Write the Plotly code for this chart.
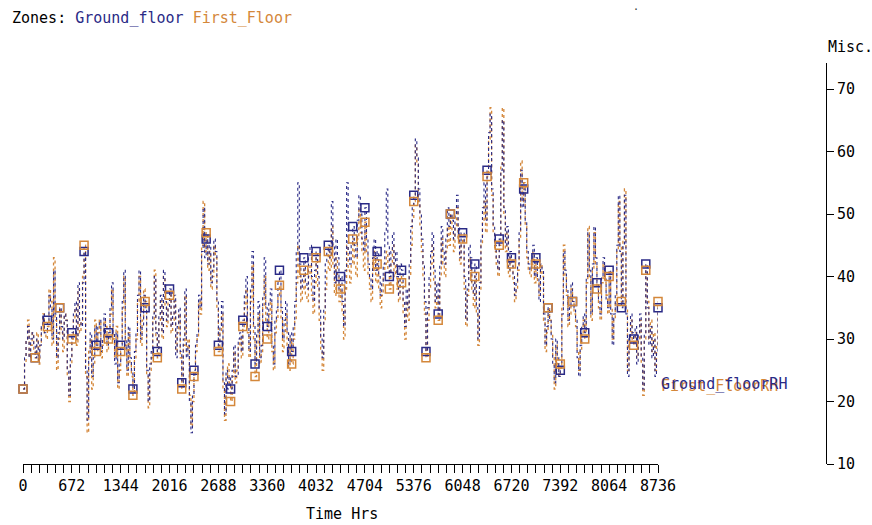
import plotly.graph_objects as go

# ---------------- data ----------------
STEP_HRS = 21
HOURS = list(range(0, 8737, STEP_HRS))          # 0 .. 8736

first_floor = [
    22, 26, 30, 33, 27, 29, 31, 28,   27, 31, 26, 29, 32, 34, 31, 30,
    32, 38, 36, 29, 43, 33, 25, 30,   35, 31, 28, 34, 33, 24, 20, 26,
    30, 33, 35, 29, 38, 31, 33, 40,   45, 24, 15, 28, 30, 22, 26, 33,
    28, 31, 33, 27, 29, 33, 32, 28,   30, 34, 38, 30, 27, 32, 22, 25,
    28, 35, 40, 29, 24, 31, 26, 24,   21, 27, 30, 36, 40, 29, 33, 38,
    36, 24, 19, 25, 27, 33, 41, 30,   27, 33, 36, 30, 40, 35, 32, 36,
    37, 31, 33, 36, 28, 31, 34, 27,   22, 29, 37, 28, 30, 21, 16, 20,
    24, 28, 30, 36, 34, 45, 52, 44,   47, 41, 44, 38, 40, 45, 43, 35,
    28, 31, 34, 22, 17, 24, 26, 23,   20, 24, 28, 23, 25, 29, 30, 27,
    32, 35, 38, 31, 27, 36, 42, 30,   24, 29, 34, 26, 28, 35, 40, 33,
    30, 34, 36, 28, 25, 31, 33, 37,   38.6, 33, 28, 31, 34, 29, 25, 30,
    26, 30, 33, 39, 45, 40, 36, 38,   41, 37, 36, 40, 42, 37, 34, 39,
    43, 38, 33, 28, 25, 33, 38, 41,   44, 41, 48, 42, 37, 43, 40, 36,
    38, 34, 30, 38, 45, 41, 39, 42,   46, 42, 40, 46, 51, 47, 44, 41,
    48.7, 44, 40, 38, 36, 41, 44, 39, 42, 38, 35, 37, 40, 42, 44, 41,
    38, 42, 45, 40, 42, 38, 36, 40,   39, 34, 30, 36, 33, 40, 45, 49,
    52, 61, 58, 52, 48, 44, 40, 34,   27, 33, 38, 42, 45, 39, 35, 37,
    33, 40, 46, 42, 40, 44, 48, 45,   50, 47, 44, 48, 51, 46, 42, 45,
    46, 38, 32, 37, 43, 41, 38, 35,   40, 34, 29, 38, 45, 49, 52, 47,
    56, 62, 67, 53, 47, 44, 42, 40,   45, 58, 67, 50, 44, 47, 40, 43,
    42, 39, 36, 38, 41, 46, 58.5, 52, 55, 48, 43, 41, 40, 42, 44, 39,
    42, 39, 37, 42, 40, 33, 28, 31,   35, 33, 31, 27, 22, 29, 26, 24,
    26, 35, 45, 40, 37, 32, 34, 38,   36, 34, 32, 28, 25, 28, 31, 33,
    30, 39, 48, 40, 33, 41, 47, 42,   38, 35, 33, 39, 42, 39, 37, 34,
    40, 35, 30, 33, 36, 44, 52, 45,   36, 46, 54, 35, 25, 29, 33, 30,
    29, 31, 27, 30, 33, 26, 21, 30,   41, 36, 30, 33, 28, 31, 25, 29, 36,
]

ground_floor = [
    22, 27, 30, 32, 27, 30, 31, 29,   27, 30, 27, 29, 32, 34, 31, 31,
    33, 37, 35, 30, 41, 34, 27, 31,   35, 32, 30, 34, 33, 25, 21, 27,
    31, 34, 36, 30, 39, 33, 32, 39,   44, 25, 17, 27, 31, 24, 27, 32,
    29, 32, 33, 28, 30, 34, 31, 29,   31, 35, 39, 31, 26, 31, 23, 26,
    29, 36, 41, 30, 25, 32, 27, 25,   22, 28, 31, 37, 41, 30, 32, 37,
    35, 25, 20, 26, 28, 34, 40, 31,   28, 34, 37, 31, 41, 36, 33, 35,
    38, 32, 34, 37, 27, 32, 35, 28,   23, 30, 38, 27, 29, 20, 15, 21,
    25, 29, 31, 37, 35, 44, 51, 43,   46, 42, 45, 39, 41, 46, 44, 36,
    29, 32, 36, 23, 18, 25, 22, 24,   22, 25, 29, 24, 24, 30, 31, 28,
    33, 37, 40, 32, 28, 38, 44, 32,   26, 31, 36, 27, 29, 37, 43, 35,
    32, 36, 38, 29, 26, 33, 35, 39,   41, 35, 30, 33, 36, 31, 26, 31,
    28, 32, 36, 44, 55, 42, 38, 40,   43, 39, 38, 43, 45, 40, 36, 41,
    44, 40, 35, 30, 27, 35, 42, 44,   45, 43, 52, 45, 39, 46, 43, 38,
    40, 36, 32, 41, 55, 44, 42, 45,   48, 45, 43, 49, 53, 50, 46, 44,
    51, 46, 42, 40, 38, 43, 46, 41,   44, 40, 37, 39, 42, 47, 54, 45,
    40, 44, 47, 42, 44, 40, 37, 42,   41, 36, 32, 38, 35, 42, 48, 51,
    53, 62, 59, 54, 50, 46, 42, 36,   28, 35, 40, 44, 47, 41, 36, 39,
    34, 42, 48, 44, 42, 46, 51, 48,   50, 49, 46, 50, 53, 48, 43, 47,
    47, 40, 33, 38, 45, 43, 39, 37,   42, 35, 30, 39, 46, 51, 55, 49,
    57, 63, 66, 54, 48, 45, 43, 41,   46, 57, 65, 51, 45, 48, 41, 44,
    43, 40, 37, 39, 42, 47, 57, 51,   54, 49, 44, 42, 41, 43, 45, 40,
    43, 40, 36, 42, 41, 34, 29, 32,   35, 33, 30, 26, 23, 30, 27, 24,
    25, 34, 44, 41, 38, 33, 35, 39,   36, 35, 33, 27, 24, 29, 32, 34,
    31, 40, 47, 41, 34, 42, 48, 43,   39, 36, 34, 40, 43, 40, 36, 35,
    41, 34, 29, 34, 37, 45, 53, 44,   35, 45, 53, 34, 24, 30, 34, 31,
    30, 32, 26, 31, 34, 27, 22, 31,   42, 35, 29, 32, 27, 30, 24, 28, 35,
]

assert len(first_floor) == len(HOURS) and len(ground_floor) == len(HOURS)

MARKER_EVERY = 8                                  # one marker per 168 h
X_TICKS = list(range(0, 8737, 672))
Y_TICKS = [10, 20, 30, 40, 50, 60, 70]
ZONE_NAMES = ["Ground_floor", "First_Floor"]
SERIES_LABELS = ["Ground_floorRH", "First_FloorRH"]

# ---------------- style ----------------
NAVY = "#2a2a86"
ORANGE = "#d4873a"
FONT = "DejaVu Sans Mono"
W, H = 872, 525
ML, MR, MT, MB = 23, 46, 63, 61
PW, PH = W - ML - MR, H - MT - MB


def px(x):
    return (x - ML) / PW


def py(y):
    return (H - MB - y) / PH


fig = go.Figure()

# lines: orange first, navy on top
for vals, col, wid in [(first_floor, ORANGE, 1.3), (ground_floor, NAVY, 1.1)]:
    fig.add_trace(go.Scatter(
        x=HOURS, y=vals, mode="lines", line=dict(color=col, width=wid, dash="dot", shape="hv"),
        cliponaxis=False, hoverinfo="skip"))
# markers: navy first, orange on top
for vals, col in [(ground_floor, NAVY), (first_floor, ORANGE)]:
    fig.add_trace(go.Scatter(
        x=HOURS[::MARKER_EVERY], y=vals[::MARKER_EVERY], mode="markers",
        marker=dict(symbol="square-open", size=8, color=col, line=dict(width=1.5, color=col)),
        cliponaxis=False, hoverinfo="skip"))

x_end = (658 - ML) / PW

fig.update_layout(
    width=W, height=H, margin=dict(l=ML, r=MR, t=MT, b=MB),
    paper_bgcolor="white", plot_bgcolor="white", showlegend=False,
    font=dict(family=FONT, size=15, color="black"),
    xaxis=dict(domain=[0, x_end], range=[0, 8736], tickvals=X_TICKS,
               ticks="outside", ticklen=8, tickcolor="black", tickwidth=1,
               showline=True, linecolor="black", linewidth=1,
               showgrid=False, zeroline=False,
               tickfont=dict(family=FONT, size=15, color="black"),
               minor=dict(dtick=112, tick0=0, ticks="outside", ticklen=8,
                          tickcolor="black", tickwidth=1, showgrid=False)),
    yaxis=dict(anchor="free", position=1, side="right", range=[10, 74.16],
               tickvals=Y_TICKS, ticks="outside", ticklen=7, tickcolor="black",
               showline=True, linecolor="black", linewidth=1,
               showgrid=False, zeroline=False,
               tickfont=dict(family=FONT, size=15, color="black")),
)

ann = [
    dict(x=px(10), y=py(18), xanchor="left", yanchor="middle",
         text=f"Zones: <span style='color:{NAVY}'>{ZONE_NAMES[0]}</span> "
              f"<span style='color:{ORANGE}'>{ZONE_NAMES[1]}</span>"),
    dict(x=px(826), y=py(47), xanchor="left", yanchor="middle", text="Misc."),
    dict(x=px(342), y=py(514), xanchor="center", yanchor="middle", text="Time Hrs"),
    dict(x=px(659), y=py(386), xanchor="left", yanchor="middle",
         text=SERIES_LABELS[1], font=dict(color=ORANGE)),
    dict(x=px(659), y=py(384), xanchor="left", yanchor="middle",
         text=SERIES_LABELS[0], font=dict(color=NAVY)),
    dict(x=px(636), y=py(6), xanchor="center", yanchor="middle", text=".",
         font=dict(size=10, color="#333333")),
]
for a in ann:
    a.setdefault("font", dict(family=FONT, size=15, color="black"))
    a["font"].setdefault("family", FONT)
    a["font"].setdefault("size", 15)
    fig.add_annotation(xref="paper", yref="paper", showarrow=False, **a)

fig.write_html("out.html")
